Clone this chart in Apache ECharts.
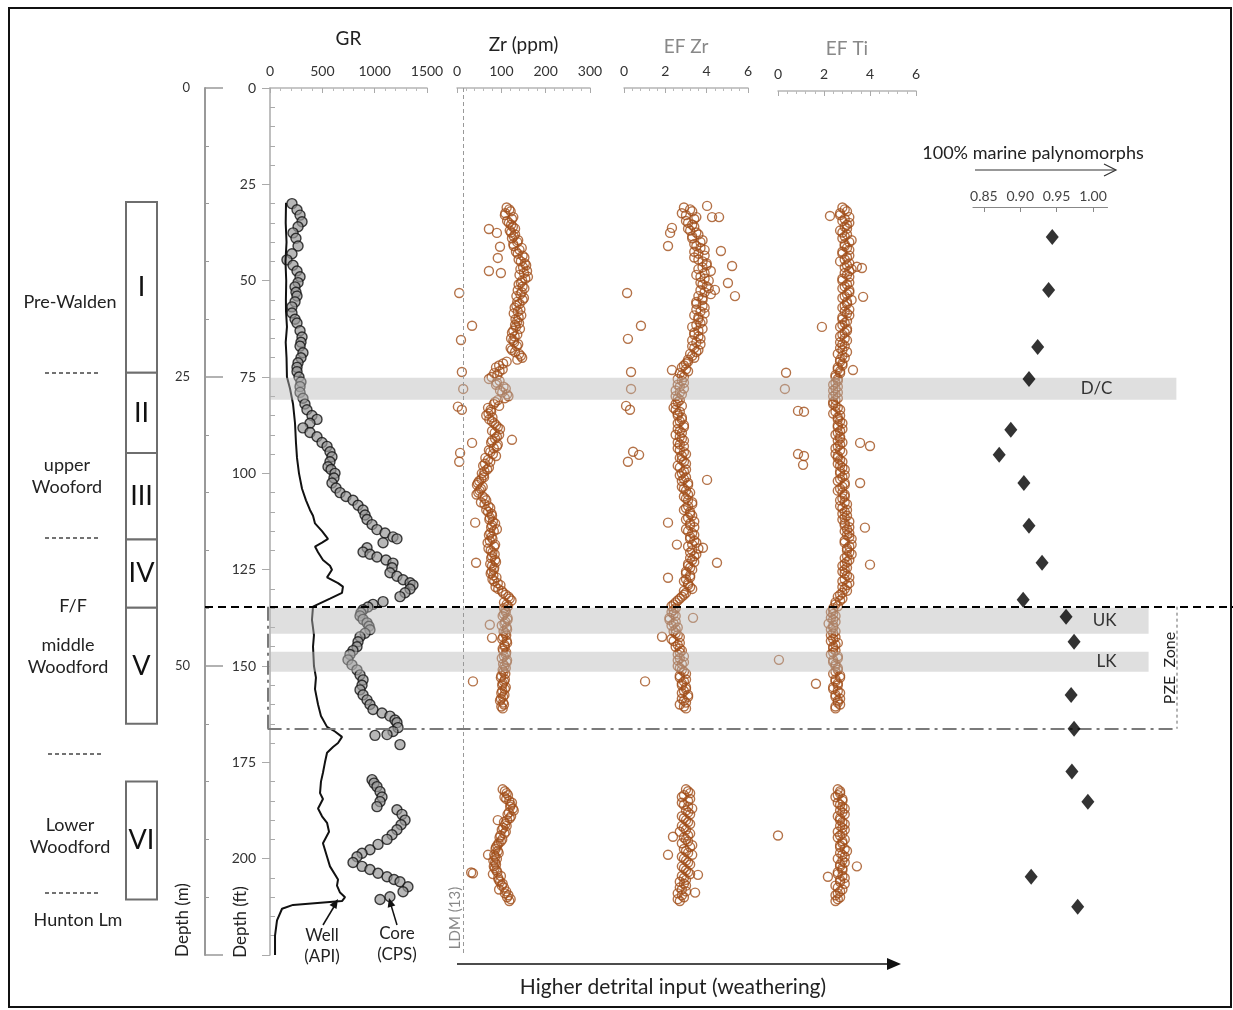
<!DOCTYPE html>
<html><head><meta charset="utf-8">
<script src="https://cdn.jsdelivr.net/npm/echarts@6/dist/echarts.min.js"></script>
<style>html,body{margin:0;padding:0;background:#fff}#c{width:1233px;height:1010px}</style>
</head><body><div id="c"></div>
<script>
// ---------- DATA ----------
// GR well log (API), depth in ft
const wellDepth = [29.8,35,40,45,50,55,58,62,66,70,75,78,82,87,92,96,100,104,107,109.5,111,113,115,117,118,119,120.5,122.5,124,125,127,128.5,129.4,131,132.5,134.6,138,142,145,150,153,156,160,163,165.8,167,168.4,170,171,172.5,175,177.7,180,183,184.5,187,189,190.7,193,196,199.5,202,205.4,207,208.8,210,211,212,213,216,220,225];
const wellGR = [153,150,158,148,155,152,153,162,150,158,162,191,220,239,248,258,277,306,344,382,411,430,497,554,497,430,459,506,573,592,545,650,697,688,573,411,401,420,411,420,439,430,459,487,545,621,688,650,602,545,525,506,487,478,506,459,497,545,564,506,545,573,650,640,669,717,688,220,115,67,48,48];
// GR core (CPS)
const coreDepth = [30,31.6,33,34.7,36,37.6,39,41,43,44.6,46,47.5,49,50.5,51.6,53,54,55.5,56.8,58.4,60,61,63,64.6,66,67,68.7,70,71.3,72.5,73.6,75,76.3,77.5,79,80.5,82,83.5,85,86,87,88.2,89.4,90.5,92,93,94.4,95.7,97,98.3,99,100,101.2,102.5,103.8,105,106,107,108.3,109.5,110.8,112,113.3,114.6,115.5,116.5,117,118,119.3,120.4,121,121.7,122.5,123.3,124.5,125.8,126.7,127.6,128.4,129,130,131,132,133.3,134,134.7,135.4,136.2,137,137.9,138.8,139.7,140.6,141.5,142.4,143.7,145,146,147,148.4,149.7,151,152.3,153.6,155,156.2,157.5,158.8,160,161.3,162.2,163,164,164.7,166,167,167.8,168,170.4,179.5,180.4,181.3,182.6,184,185.2,186.5,187.3,188.5,190,191.2,192.5,193.8,195,196.3,197.7,198.6,199.5,201,202,202.8,203.8,204.7,205.4,206,207.3,208.6,209.9,210.6];
const coreGR = [210,258,287,306,268,220,248,268,210,162,220,258,287,268,239,248,258,239,210,210,239,258,287,306,296,287,315,296,268,258,258,277,296,287,287,315,334,353,401,449,382,315,382,449,497,545,573,592,573,554,583,621,611,592,631,669,726,793,841,889,908,927,975,1022,1099,1175,1213,1080,927,889,955,1022,1108,1175,1166,1146,1213,1271,1338,1366,1338,1290,1242,1080,984,936,889,869,860,889,927,946,955,908,860,841,831,793,764,745,783,831,860,889,879,860,889,927,955,984,1070,1146,1194,1213,1223,1175,1118,1003,1242,975,994,1022,1051,1070,1051,1022,1213,1261,1290,1252,1213,1166,1118,1032,955,879,831,793,879,955,1032,1118,1185,1242,1318,1271,1146,1051];
// geochemistry sample depths (ft), two sample sets
const depthUpper = [31,32,33,34,35,36,37,38,39,40,41,42,43,44,45,46,47,48,49,50,51,52,53,54,55,56,57,58,59,60,61,62,63,64,65,66,67,68,69,70,71,72,73,74,75,76,77,78,79,80,81,82,83,84,85,86,87,88,89,90,91,92,93,94,95,96,97,98,99,100,101,102,103,104,105,106,107,108,109,110,111,112,113,114,115,116,117,118,119,120,121,122,123,124,125,126,127,128,129,130,131,132,133,134,135,136,137,138,139,140,141,142,143,144,145,146,147,148,149,150,151,152,153,154,155,156,157,158,159,160,161];
const depthLower = [182,183,184,185,186,187,188,189,190,191,192,193,194,195,196,197,198,199,200,201,202,203,204,205,206,207,208,209,210,211];
const depthUpperB = [31.5,32.5,33.5,34.5,35.5,36.5,37.5,38.5,39.5,40.5,41.5,42.5,43.5,44.5,45.5,46.5,47.5,48.5,49.5,50.5,51.5,52.5,53.5,54.5,55.5,56.5,57.5,58.5,59.5,60.5,61.5,62.5,63.5,64.5,65.5,66.5,67.5,68.5,69.5,70.5,71.5,72.5,73.5,74.5,75.5,76.5,77.5,78.5,79.5,80.5,81.5,82.5,83.5,84.5,85.5,86.5,87.5,88.5,89.5,90.5,91.5,92.5,93.5,94.5,95.5,96.5,97.5,98.5,99.5,100.5,101.5,102.5,103.5,104.5,105.5,106.5,107.5,108.5,109.5,110.5,111.5,112.5,113.5,114.5,115.5,116.5,117.5,118.5,119.5,120.5,121.5,122.5,123.5,124.5,125.5,126.5,127.5,128.5,129.5,130.5,131.5,132.5,133.5,134.5,135.5,136.5,137.5,138.5,139.5,140.5,141.5,142.5,143.5,144.5,145.5,146.5,147.5,148.5,149.5,150.5,151.5,152.5,153.5,154.5,155.5,156.5,157.5,158.5,159.5,160.5];
const depthLowerB = [182.5,183.5,184.5,185.5,186.5,187.5,188.5,189.5,190.5,191.5,192.5,193.5,194.5,195.5,196.5,197.5,198.5,199.5,200.5,201.5,202.5,203.5,204.5,205.5,206.5,207.5,208.5,209.5,210.5];
// Zr (ppm)
const zrUpper = [112,121,108,124,117,126,119,131,124,136,128,141,137,152,144,156,143,151,160,147,139,152,146,134,148,141,130,137,145,132,140,133,127,136,122,129,135,124,140,147,112,95,103,84,78,96,88,110,102,116,92,83,70,77,66,73,84,92,79,95,86,77,90,72,81,64,75,59,68,56,61,50,45,54,48,58,66,62,75,70,79,73,86,77,83,72,80,69,84,76,85,77,88,79,83,76,89,84,98,93,104,116,123,112,106,110,103,114,107,112,105,111,102,113,108,104,110,101,112,107,103,109,99,106,102,108,100,104,97,106,103];
const zrLower = [103,112,107,118,121,126,117,122,113,109,104,110,98,102,94,88,92,84,90,86,83,89,81,93,97,101,95,108,113,118];
const zrUpperB = [118,109,127,113,122,131,122,128,138,127,146,133,148,139,153,149,158,141,154,144,148,137,143,151,136,134,143,128,139,136,131,142,124,130,127,138,121,131,144,136,104,88,96,91,72,90,105,97,113,108,86,95,76,71,80,79,88,97,85,90,79,92,83,75,88,70,63,72,62,60,55,47,58,51,44,63,54,71,66,78,74,81,79,90,75,78,74,86,71,80,79,86,75,84,78,82,80,92,87,101,110,119,106,115,109,106,114,109,101,113,109,104,112,107,103,111,106,113,104,110,105,100,108,103,110,102,107,99,104,100];
const zrLowerB = [108,115,111,124,120,128,114,119,106,112,101,107,96,99,91,87,94,86,82,88,85,91,99,94,103,106,111,116,121];
const zrOutDepth = [36.6,37.6,41.2,44.1,47.5,48,53.2,61.7,65.4,73.7,78.1,82.7,83.5,91.3,92.1,94.7,97,112.8,123.2,139.3,142.7,154,190,199,203.6,203.8];
const zrOutVal = [72,90,97,92,72,99,5,34,9,11,14,2,11,124,34,7,5,41,43,74,79,36,92,70,32,36];
// EF Zr
const efZrUpper = [2.9,3.3,3.0,3.4,3.1,3.4,3.2,3.6,3.3,3.7,3.5,3.9,3.6,3.4,3.8,4.0,3.6,3.9,3.7,4.1,3.8,4.1,3.9,3.6,3.8,3.5,3.9,3.7,3.4,3.6,3.7,3.3,3.6,3.4,3.7,3.5,3.3,3.6,3.2,3.4,3.1,2.9,3.0,2.7,2.9,2.8,2.6,2.9,2.7,2.5,2.7,2.5,2.4,2.7,2.6,2.8,2.6,2.9,2.7,2.5,2.8,2.6,2.9,2.7,3.0,2.7,2.9,2.6,3.0,2.8,3.0,2.8,3.1,2.9,3.2,2.9,3.1,3.3,3.0,3.2,3.3,3.0,3.2,3.4,3.1,3.4,3.2,3.5,3.1,3.3,3.5,3.2,3.4,3.1,3.3,3.0,3.2,2.9,3.1,3.3,3.0,2.8,2.6,2.4,2.5,2.3,2.5,2.2,2.4,2.6,2.4,2.6,2.3,2.7,2.5,2.8,2.6,2.7,2.9,2.6,2.8,3.0,2.7,2.9,2.8,3.0,2.8,3.1,2.9,2.7,3.0];
const efZrLower = [3.0,3.2,2.8,3.1,2.9,3.3,3.1,2.8,3.0,3.2,2.9,2.7,3.1,3.0,2.8,3.2,3.0,3.3,2.9,3.1,2.8,3.0,3.2,2.9,2.7,3.0,2.8,2.6,2.9,2.7];
const efZrUpperB = [3.2,2.8,3.5,3.0,3.3,3.1,3.5,3.3,3.8,3.4,3.7,3.4,3.9,3.6,4.0,3.8,4.2,3.5,3.9,3.7,4.0,3.7,4.2,3.8,3.5,3.8,3.5,3.9,3.6,3.8,3.5,3.8,3.4,3.6,3.3,3.7,3.4,3.5,3.3,3.1,3.0,2.8,3.1,2.8,2.6,2.9,2.7,2.5,2.8,2.6,2.6,2.8,2.5,2.6,2.8,2.7,2.9,2.6,2.8,2.7,2.9,2.7,2.6,2.9,2.8,2.8,3.0,2.7,2.9,2.7,2.9,3.1,2.8,3.0,3.1,3.0,3.3,3.1,2.9,3.2,3.1,3.4,3.2,3.0,3.3,3.2,3.4,3.3,3.6,3.2,3.4,3.3,3.1,3.2,3.0,3.2,3.0,3.1,3.2,2.9,2.9,2.7,2.5,2.3,2.4,2.4,2.2,2.5,2.3,2.5,2.5,2.7,2.4,2.6,2.7,2.7,2.9,2.6,2.8,2.7,2.9,2.7,3.0,2.8,3.0,2.9,3.1,2.8,3.0,2.9];
const efZrLowerB = [3.1,2.9,3.2,2.8,3.1,3.0,3.2,2.9,3.1,2.8,3.0,3.2,2.9,3.1,3.3,2.9,3.1,2.8,3.0,3.2,2.9,3.1,2.8,3.0,2.9,2.7,3.0,2.8,2.6];
const efZrOutDepth = [36.3,37.6,41,30.6,33.5,33.5,42.3,46.2,50.6,54,53.2,61.7,65.1,73.7,78.1,82.5,83.5,94.4,95.2,97,112.8,118.5,123.2,127.1,101.7,119.3,73.2,154,142.4,137.5,199,194.3,204.2,208.8,52.4];
const efZrOutVal = [2.32,2.23,2.13,4.02,4.26,4.60,4.69,5.23,5.03,5.37,0.15,0.82,0.19,0.34,0.34,0.10,0.29,0.44,0.73,0.19,2.13,2.56,4.5,2.13,4.02,3.82,2.32,1.02,1.84,3.34,2.13,2.37,3.58,3.44,4.4];
// EF Ti
const efTiUpper = [2.8,3.0,2.7,2.9,3.1,2.9,2.7,3.0,2.8,3.1,2.9,3.1,2.8,3.0,2.7,3.0,3.2,2.9,3.1,2.8,3.0,2.8,3.1,2.9,3.2,3.0,2.8,2.9,3.1,2.8,2.9,2.7,3.0,2.8,2.9,2.7,2.9,2.8,2.6,2.9,2.7,2.8,2.6,2.7,2.5,2.6,2.4,2.5,2.6,2.4,2.5,2.4,2.6,2.5,2.7,2.6,2.8,2.6,2.7,2.5,2.7,2.8,2.6,2.7,2.5,2.6,2.8,2.7,2.9,2.7,2.8,2.6,2.9,2.7,2.8,2.9,2.7,3.0,2.8,2.9,3.0,2.8,2.9,3.1,2.9,3.0,3.2,2.9,3.1,3.0,3.2,2.9,3.0,2.8,2.9,2.9,3.1,2.8,3.0,2.9,2.8,2.6,2.7,2.5,2.4,2.3,2.5,2.4,2.2,2.4,2.5,2.3,2.4,2.6,2.4,2.5,2.3,2.6,2.4,2.5,2.6,2.4,2.7,2.5,2.6,2.4,2.7,2.5,2.6,2.7,2.5];
const efTiLower = [2.6,2.7,2.5,2.8,2.7,2.9,2.8,2.6,2.7,2.9,2.8,2.6,2.7,2.9,2.8,2.7,3.0,2.8,2.6,2.9,2.7,2.8,2.6,2.9,2.7,2.5,2.8,2.6,2.7,2.5];
const efTiUpperB = [2.9,2.7,3.1,2.8,3.0,3.0,2.8,2.9,3.2,2.9,3.0,2.8,3.1,2.9,3.1,2.9,3.1,3.0,2.8,3.1,2.9,3.1,3.0,2.8,3.0,2.9,3.1,3.0,2.8,3.0,2.8,3.0,2.9,2.7,3.0,2.8,2.7,3.0,2.8,2.7,2.8,2.6,2.7,2.5,2.6,2.5,2.6,2.4,2.5,2.6,2.4,2.5,2.7,2.4,2.6,2.7,2.6,2.8,2.6,2.7,2.6,2.7,2.5,2.8,2.6,2.7,2.6,2.8,2.7,2.9,2.7,2.9,2.8,2.6,2.9,2.8,2.9,2.7,3.0,2.8,2.9,3.1,2.9,3.0,3.1,3.1,2.9,3.2,3.0,3.1,3.0,3.1,2.9,3.0,2.8,3.0,2.9,3.1,2.8,3.0,2.7,2.8,2.5,2.6,2.4,2.4,2.3,2.5,2.4,2.3,2.4,2.5,2.3,2.5,2.4,2.4,2.6,2.4,2.5,2.6,2.5,2.7,2.5,2.6,2.4,2.6,2.5,2.7,2.6,2.5];
const efTiLowerB = [2.7,2.6,2.8,2.6,2.8,2.7,2.9,2.7,2.8,2.7,2.9,2.8,2.6,2.8,2.7,2.9,2.7,2.9,2.8,2.7,2.8,2.6,2.8,2.7,2.9,2.6,2.7,2.5,2.6];
const efTiOutDepth = [33.2,46.4,46.7,54.2,62,73.9,78.1,83.8,84,95,95.5,97.8,92.1,92.9,102.5,114.1,123.7,73.2,148.4,154.6,194,204.7,202];
const efTiOutVal = [2.26,3.43,3.65,3.70,1.91,0.35,0.30,0.87,1.13,0.87,1.13,1.09,3.57,4.0,3.57,3.78,4.0,3.26,0.04,1.65,0.0,2.17,3.43];
// marine palynomorph fraction
const palyDepth = [38.7,52.4,67.2,75.5,88.7,95.2,102.5,113.6,123.2,132.8,137.2,143.7,157.5,166.3,177.4,185.2,204.7,212.5];
const palyVal = [0.944,0.939,0.924,0.912,0.887,0.871,0.905,0.912,0.930,0.904,0.963,0.974,0.970,0.974,0.971,0.993,0.915,0.979];
const palyTicks = [0.85,0.90,0.95,1.00];
// stratigraphic units
const unitNames = ['I','II','III','IV','V','VI'];
const unitTop = [29.6,73.9,94.7,117.2,134.9,180.0];
const unitBase = [73.9,94.7,117.2,134.9,165.0,210.6];
// shaded intervals
const bandNames = ['D/C','UK','LK'];
const bandTop = [75.2,134.9,146.3];
const bandBase = [80.9,141.6,151.5];
const ffDepth = 134.6;      // F/F boundary
const pzeBase = 166.3;      // base of PZE zone
const ldmZr = 13;           // LDM (13)

// ---------- LAYOUT ----------
const TOP = 88, H = 867, DMAX = 225;
const FONT = 'Lato, "Open Sans", sans-serif';
const pairs = (xs, ys) => xs.map((x, i) => [x, ys[i]]);

const grids = [
  {left:205, top:TOP, width:1, height:H},     // 0 depth m
  {left:270, top:TOP, width:157, height:H},   // 1 GR
  {left:457, top:TOP, width:133, height:H},   // 2 Zr
  {left:624, top:TOP, width:124, height:H},   // 3 EF Zr
  {left:778, top:TOP, width:138, height:H},   // 4 EF Ti
  {left:973, top:TOP, width:134.5, height:H}, // 5 palynomorphs
  {left:126, top:TOP, width:31, height:H},    // 6 units
  {left:205, top:TOP, width:1035, height:H}   // 7 overlay
];

function topAxis(i, min, max, interval, name, nameGap, nameColor, extra) {
  return Object.assign({
    gridIndex:i, type:'value', position:'top', min, max, interval,
    name, nameLocation:'middle', nameGap,
    nameTextStyle:{fontSize:19, color:nameColor, fontFamily:FONT},
    axisLine:{show:true, onZero:false, lineStyle:{color:'#b5b5b5', width:1.5}},
    axisTick:{show:true, inside:true, length:5, lineStyle:{color:'#aaa'}},
    minorTick:{show:true, splitNumber:5, length:3, lineStyle:{color:'#bbb'}},
    axisLabel:{fontSize:14, color:'#333', margin:10, fontFamily:FONT, formatter:v => String(v)},
    splitLine:{show:false}, minorSplitLine:{show:false}
  }, extra || {});
}
const hiddenX = (i, max) => ({gridIndex:i, type:'value', min:0, max:max, show:false, axisLine:{onZero:false}});
const hiddenY = (i) => ({gridIndex:i, type:'value', inverse:true, min:0, max:DMAX, show:false, axisLine:{onZero:false}});

const xAxis = [
  hiddenX(0, 1),
  topAxis(1, 0, 1500, 500, 'GR', 40, '#222'),
  topAxis(2, 0, 300, 100, 'Zr (ppm)', 34, '#222'),
  topAxis(3, 0, 6, 2, 'EF Zr', 32, '#888'),
  topAxis(4, 0, 6, 2, 'EF Ti', 33, '#888', {offset:-3}),
  {gridIndex:5, type:'value', position:'top', min:0.835, max:1.02, offset:-119,
   axisLine:{show:true, onZero:false, lineStyle:{color:'#888', width:1.2}},
   axisTick:{show:true, inside:true, length:5, customValues:palyTicks, lineStyle:{color:'#888'}},
   axisLabel:{fontSize:14, color:'#444', margin:4, fontFamily:FONT, customValues:palyTicks, formatter:v => v.toFixed(2)},
   splitLine:{show:false}},
  hiddenX(6, 1),
  hiddenX(7, 1035)
];

const yAxis = [
  // metre scale as drawn in the figure (25 m mark level with 75 ft)
  {gridIndex:0, type:'value', inverse:true, min:0, max:75, interval:25, position:'left',
   axisLine:{show:true, onZero:false, lineStyle:{color:'#999', width:2}},
   axisTick:{show:true, inside:true, length:18, lineStyle:{color:'#999', width:1.5}},
   minorTick:{show:true, splitNumber:5, length:4, lineStyle:{color:'#999'}},
   axisLabel:{margin:15, fontSize:13, color:'#333', fontFamily:FONT, showMaxLabel:false},
   splitLine:{show:false}},
  {gridIndex:1, type:'value', inverse:true, min:0, max:DMAX, interval:25, position:'left',
   axisLine:{show:true, onZero:false, lineStyle:{color:'#aaa', width:1.5}},
   axisTick:{show:true, length:8, lineStyle:{color:'#aaa'}},
   minorTick:{show:true, splitNumber:5, length:-5, lineStyle:{color:'#aaa'}},
   axisLabel:{margin:14, fontSize:14, color:'#333', fontFamily:FONT, showMaxLabel:false},
   splitLine:{show:false}},
  hiddenY(2), hiddenY(3), hiddenY(4), hiddenY(5), hiddenY(6), hiddenY(7)
];

const brown = {color:'rgba(0,0,0,0)', borderColor:'#a14f1a', borderWidth:1.4};
function scat(gi, data, style, size) {
  return {type:'scatter', xAxisIndex:gi, yAxisIndex:gi, data, symbol:'circle', symbolSize:size||9,
          itemStyle:style, silent:true};
}
const both = (a, da, b, db) => pairs(a, da).concat(pairs(b, db));

const series = [
  {type:'line', xAxisIndex:1, yAxisIndex:1, data:pairs(wellGR, wellDepth), showSymbol:false,
   lineStyle:{color:'#111', width:2}, silent:true, z:3},
  scat(1, pairs(coreGR, coreDepth), {color:'rgba(150,150,150,0.85)', borderColor:'#111', borderWidth:1.4}, 10),
  Object.assign(scat(2, both(zrUpper, depthUpper, zrLower, depthLower).concat(both(zrUpperB, depthUpperB, zrLowerB, depthLowerB)), brown), {
    markLine:{silent:true, symbol:['none','none'], label:{show:false},
      lineStyle:{color:'#999', type:[4,3], width:1}, data:[{xAxis:ldmZr}]}}),
  scat(2, pairs(zrOutVal, zrOutDepth), brown),
  scat(3, both(efZrUpper, depthUpper, efZrLower, depthLower).concat(both(efZrUpperB, depthUpperB, efZrLowerB, depthLowerB)), brown),
  scat(3, pairs(efZrOutVal, efZrOutDepth), brown),
  scat(4, both(efTiUpper, depthUpper, efTiLower, depthLower).concat(both(efTiUpperB, depthUpperB, efTiLowerB, depthLowerB)), brown),
  scat(4, pairs(efTiOutVal, efTiOutDepth), brown),
  {type:'scatter', xAxisIndex:5, yAxisIndex:5, data:pairs(palyVal, palyDepth), symbol:'diamond',
   symbolSize:[13,16], itemStyle:{color:'#000'}, silent:true, z:8},
  // unit boxes
  {type:'line', xAxisIndex:6, yAxisIndex:6, data:[], silent:true,
   markArea:{silent:true, z:1,
     itemStyle:{color:'#fff', borderColor:'#6e6e6e', borderWidth:2},
     label:{show:true, position:'inside', fontSize:27, color:'#111', fontFamily:FONT},
     data:unitNames.map((n, i) => [{name:n, xAxis:0, yAxis:unitTop[i]}, {xAxis:1, yAxis:unitBase[i]}])}},
  // bands & boundary lines
  {type:'line', xAxisIndex:7, yAxisIndex:7, data:[], silent:true,
   markArea:{silent:true, z:4,
     itemStyle:{color:'rgba(185,185,185,0.45)'},
     label:{show:true, position:'insideRight', fontSize:17, color:'#333', fontFamily:FONT},
     data:bandNames.map((n, i) => [
       {name:n, xAxis:65, yAxis:bandTop[i], label:{distance: i === 0 ? 64 : 32}},
       {xAxis: i === 0 ? 978 : 950, yAxis:bandBase[i]}])},
   markLine:{silent:true, z:6, symbol:['none','none'], label:{show:false},
     data:[
       [{xAxis:0, yAxis:ffDepth, lineStyle:{color:'#000', width:2, type:[8,5]}}, {xAxis:1035, yAxis:ffDepth}],
       [{xAxis:63, yAxis:pzeBase, lineStyle:{color:'#7a7a7a', width:2, type:[14,5,3,5]}}, {xAxis:978, yAxis:pzeBase}],
       [{xAxis:63, yAxis:ffDepth, lineStyle:{color:'#7a7a7a', width:2, type:[14,5,3,5]}}, {xAxis:63, yAxis:pzeBase}],
       [{xAxis:978, yAxis:ffDepth, lineStyle:{color:'#9a9a9a', width:1.5, type:[3,3]}}, {xAxis:978, yAxis:pzeBase}]
     ]}}
];

// ---------- ANNOTATIONS ----------
function T(x, y, text, size, color, extra) {
  return Object.assign({type:'text', x, y, z:50,
    style:{text, font: size + 'px ' + FONT, fill: color || '#222', align:'center', verticalAlign:'middle', lineHeight: size + 4}}, extra || {});
}
function dashL(x1, x2, y) {
  return {type:'line', z:50, shape:{x1, y1:y, x2, y2:y}, style:{stroke:'#444', lineWidth:1.3, lineDash:[4,3]}};
}
const graphic = [
  {type:'rect', z:60, shape:{x:9, y:8, width:1222, height:999}, style:{fill:'none', stroke:'#111', lineWidth:2}},
  T(70, 302, 'Pre-Walden', 18), dashL(45, 100, 373),
  T(67, 476, 'upper\nWooford', 18), dashL(45, 100, 538),
  T(73, 606, 'F/F', 18),
  T(68, 656, 'middle\nWoodford', 18), dashL(48, 103, 754),
  T(70, 836, 'Lower\nWoodford', 18), dashL(45, 100, 893),
  T(78, 920, 'Hunton Lm', 18),
  T(183, 920, 'Depth (m)', 17, '#222', {rotation:Math.PI/2}),
  T(241, 922, 'Depth (ft)', 17, '#222', {rotation:Math.PI/2}),
  T(455, 918, 'LDM (13)', 15, '#888', {rotation:Math.PI/2}),
  T(322, 946, 'Well\n(API)', 17),
  T(397, 944, 'Core\n(CPS)', 17),
  {type:'line', z:50, shape:{x1:323, y1:925, x2:335, y2:905}, style:{stroke:'#111', lineWidth:1.5}},
  {type:'polygon', z:50, shape:{points:[[338,899],[336.5,909],[329.5,905]]}, style:{fill:'#111'}},
  {type:'line', z:50, shape:{x1:397, y1:925, x2:391, y2:905}, style:{stroke:'#111', lineWidth:1.5}},
  {type:'polygon', z:50, shape:{points:[[389,898],[395.3,905.5],[387.7,907.7]]}, style:{fill:'#111'}},
  {type:'line', z:50, shape:{x1:457, y1:964, x2:890, y2:964}, style:{stroke:'#111', lineWidth:1.5}},
  {type:'polygon', z:50, shape:{points:[[901,964],[887,958],[887,970]]}, style:{fill:'#111'}},
  T(673, 987, 'Higher detrital input (weathering)', 21),
  T(1033, 153, '100% marine palynomorphs', 18),
  {type:'line', z:50, shape:{x1:975, y1:170, x2:1115, y2:170}, style:{stroke:'#333', lineWidth:1.2}},
  {type:'polyline', z:50, shape:{points:[[1104,164],[1116,170],[1104,176]]}, style:{stroke:'#333', lineWidth:1.2, fill:'none'}},
  T(1170, 668, 'PZE  Zone', 16, '#222', {rotation:Math.PI/2})
];

const chart = echarts.init(document.getElementById('c'), null, {renderer:'canvas'});
chart.setOption({
  animation:false, backgroundColor:'#fff',
  textStyle:{fontFamily:FONT},
  grid:grids, xAxis, yAxis, series, graphic
});
</script></body></html>
